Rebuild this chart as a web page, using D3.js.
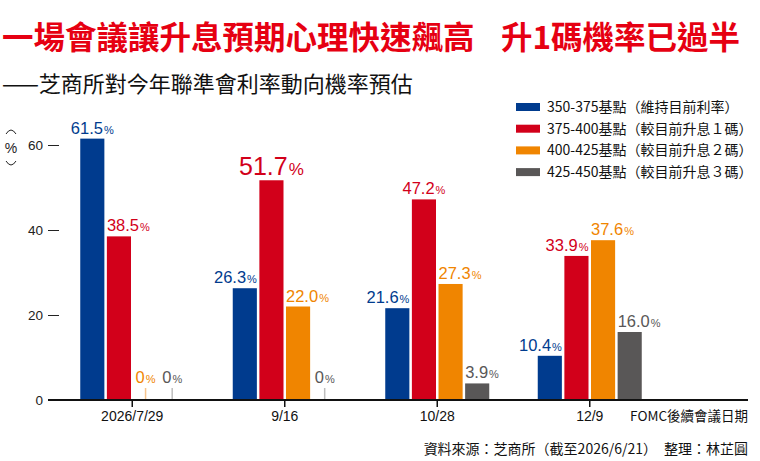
<!DOCTYPE html>
<html>
<head>
<meta charset="utf-8">
<script src="https://cdn.jsdelivr.net/npm/d3@7"></script>
<style>
  body { margin: 0; background: #fff; }
  svg { display: block; }
  .cjk { font-family: "Noto Sans CJK TC", "Noto Sans CJK SC", sans-serif; }
  .num { font-family: "Liberation Sans", Arial, sans-serif; }
</style>
</head>
<body>
<svg id="chart" width="760" height="461"></svg>
<script>
// meeting dates (x categories)
const dates = ['2026/7/29', '9/16', '10/28', '12/9'];
// rate ranges, legend order
const seriesNames = [
  '350-375基點（維持目前利率）',
  '375-400基點（較目前升息１碼）',
  '400-425基點（較目前升息２碼）',
  '425-450基點（較目前升息３碼）'
];
// probabilities (%) per meeting
const s350 = [61.5, 26.3, 21.6, 10.4];
const s375 = [38.5, 51.7, 47.2, 33.9];
const s400 = [0, 22.0, 27.3, 37.6];
const s425 = [0, 0, 3.9, 16.0];
const yTicks = [0, 20, 40, 60];
// the one label the paper blew up
const highlight = { date: '9/16', series: 1 };

const colors = ['#003b8e', '#d2001a', '#f08500', '#595757'];
const paleColors = ['#8fa6cf', '#eea0a8', '#f7c48c', '#bdbdbd'];

const svg = d3.select('#chart');
const allSeries = [s350, s375, s400, s425];

// title + subtitle
svg.append('text').attr('class', 'cjk')
   .attr('x', 2).attr('y', 49)
   .attr('font-size', '31.5px').attr('font-weight', 700).attr('fill', '#e60012')
   .text('一場會議讓升息預期心理快速飆高');
svg.append('text').attr('class', 'cjk')
   .attr('x', 740).attr('y', 49).attr('text-anchor', 'end')
   .attr('font-size', '31.5px').attr('font-weight', 700).attr('fill', '#e60012')
   .text('升1碼機率已過半');
svg.append('text').attr('class', 'cjk')
   .attr('x', 2).attr('y', 92)
   .attr('font-size', '22px').attr('fill', '#111')
   .text('——芝商所對今年聯準會利率動向機率預估');

// scales
const y = d3.scaleLinear().domain([0, 60]).range([400, 145]);
const x = d3.scaleBand().domain(dates).range([56, 666]);
const bw = x.bandwidth();
const xs = d3.scaleBand().domain(d3.range(4)).range([bw / 2 - 52, bw / 2 + 52]).paddingInner(0.094);

// y axis: short dashes left of the plot, no domain line
const yAxis = svg.append('g')
  .attr('transform', 'translate(59,0)')
  .call(d3.axisLeft(y).tickValues(yTicks).tickSize(11).tickPadding(5))
  .call(g => g.select('.domain').remove());
yAxis.selectAll('line').attr('stroke', '#222');
yAxis.selectAll('text').attr('class', 'num').attr('font-size', '13.5px').attr('fill', '#222');

// vertical "(%)" -- brackets drawn as little arcs
const unit = svg.append('g').attr('fill', 'none').attr('stroke', '#222').attr('stroke-width', 1);
const arcTop = d3.path(); arcTop.moveTo(6, 134); arcTop.quadraticCurveTo(11, 126, 16, 134);
const arcBot = d3.path(); arcBot.moveTo(6, 161); arcBot.quadraticCurveTo(11, 169, 16, 161);
unit.append('path').attr('d', arcTop.toString());
unit.append('path').attr('d', arcBot.toString());
svg.append('text').attr('class', 'num')
   .attr('x', 11).attr('y', 153).attr('text-anchor', 'middle')
   .attr('font-size', '14px').attr('fill', '#222').text('%');

// bars
const rows = [];
dates.forEach((d, gi) => {
  allSeries.forEach((s, si) => rows.push({ date: d, gi, si, v: s[gi] }));
});

const bars = svg.append('g');
bars.selectAll('rect')
  .data(rows.filter(r => r.v > 0))
  .join('rect')
  .attr('x', r => x(r.date) + xs(r.si))
  .attr('width', xs.bandwidth())
  .attr('y', r => y(r.v))
  .attr('height', r => y(0) - y(r.v))
  .attr('fill', r => colors[r.si]);

// zero values get a thin pale stub
bars.selectAll('line')
  .data(rows.filter(r => r.v === 0))
  .join('line')
  .attr('x1', r => x(r.date) + xs(r.si) + xs.bandwidth() / 2)
  .attr('x2', r => x(r.date) + xs(r.si) + xs.bandwidth() / 2)
  .attr('y1', y(0)).attr('y2', y(0) - 12)
  .attr('stroke', r => paleColors[r.si]).attr('stroke-width', 1.5);

// value labels: pushed away from a taller neighbour
function anchorFor(r) {
  if (r.v === 0) return 'middle';
  const vals = allSeries.map(s => s[r.gi]);
  const left = r.si > 0 ? vals[r.si - 1] : -1;
  const right = r.si < 3 ? vals[r.si + 1] : -1;
  if (right > r.v) return 'end';
  if (left > r.v || (left > 0 && r.v - left < 5)) return 'start';
  return 'middle';
}

const labels = svg.append('g').attr('class', 'num');
rows.forEach(r => {
  const a = anchorFor(r);
  const x0 = x(r.date) + xs(r.si);
  const big = r.date === highlight.date && r.si === highlight.series;
  const fs = big ? 25 : 16.5;
  const t = labels.append('text')
    .attr('x', a === 'start' ? x0 : a === 'end' ? x0 + xs.bandwidth() : x0 + xs.bandwidth() / 2)
    .attr('y', (r.v === 0 ? y(0) - 12 : y(r.v)) - 5)
    .attr('text-anchor', a)
    .attr('fill', colors[r.si])
    .attr('font-size', fs + 'px');
  t.append('tspan').text(r.v === 0 ? '0' : r.v.toFixed(1));
  t.append('tspan').attr('font-size', Math.round(fs * 0.68) + 'px').attr('dx', 1).text('%');
});

// x axis
svg.append('line')
  .attr('x1', 48).attr('x2', 748).attr('y1', y(0)).attr('y2', y(0))
  .attr('stroke', '#111').attr('stroke-width', 2.2);
const xAxis = svg.append('g')
  .attr('transform', `translate(0,${y(0)})`)
  .call(d3.axisBottom(x).tickSize(7).tickPadding(4))
  .call(g => g.select('.domain').remove());
xAxis.selectAll('line').attr('stroke', '#111').attr('stroke-width', 1.5);
xAxis.selectAll('text').attr('class', 'num').attr('font-size', '14px').attr('fill', '#111');

svg.append('text').attr('class', 'cjk')
   .attr('x', 748).attr('y', 421).attr('text-anchor', 'end')
   .attr('font-size', '13.5px').attr('fill', '#111')
   .text('FOMC後續會議日期');

// legend
const legend = svg.append('g').attr('transform', 'translate(516,107)');
const item = legend.selectAll('g')
  .data(seriesNames)
  .join('g')
  .attr('transform', (d, i) => `translate(0,${i * 21.7})`);
item.append('rect').attr('y', -4).attr('width', 24).attr('height', 8).attr('fill', (d, i) => colors[i]);
item.append('text').attr('class', 'cjk')
  .attr('x', 31).attr('dy', '0.36em')
  .attr('font-size', '14px').attr('fill', '#111')
  .text(d => d);

// source line
svg.append('text').attr('class', 'cjk')
   .attr('x', 748).attr('y', 454).attr('text-anchor', 'end')
   .attr('font-size', '14px').attr('fill', '#111')
   .text('資料來源：芝商所（截至2026/6/21）　整理：林芷圓');
</script>
</body>
</html>
